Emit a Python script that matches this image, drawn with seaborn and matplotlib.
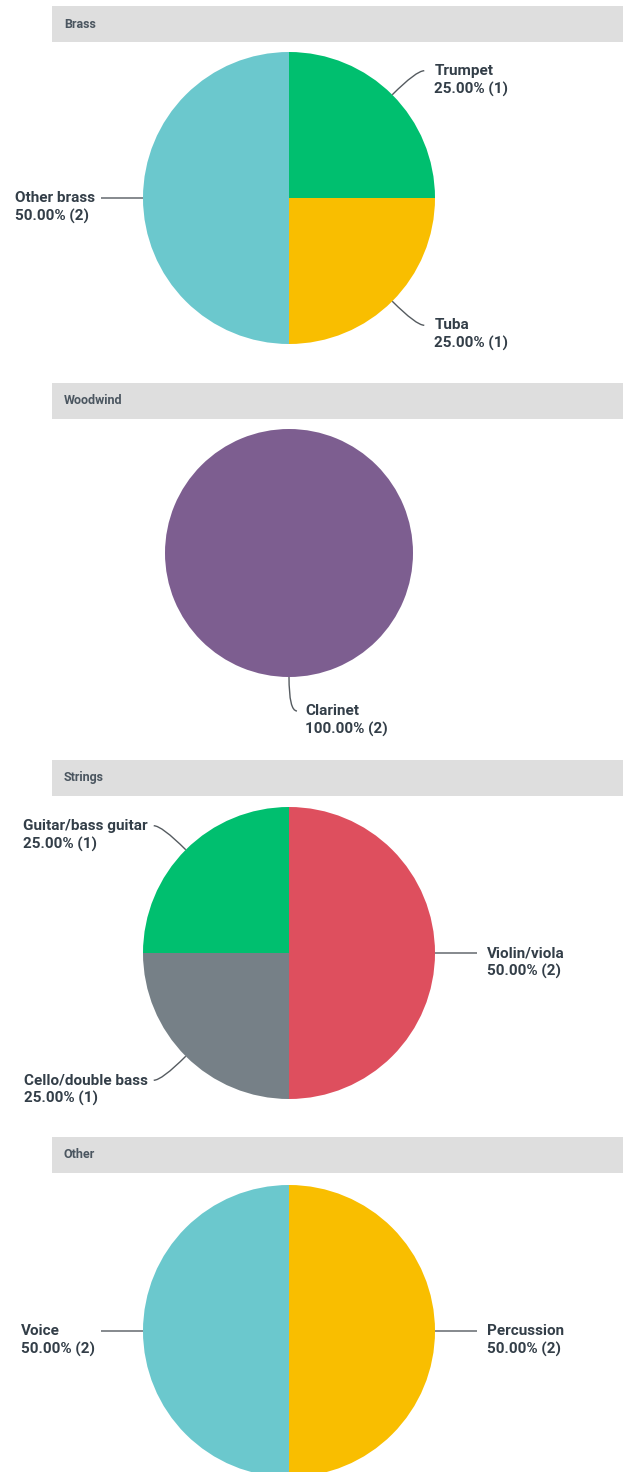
import numpy as np
import matplotlib
matplotlib.use("Agg")
import matplotlib.pyplot as plt
from matplotlib.patches import Rectangle
from matplotlib.path import Path
from matplotlib.patches import PathPatch
import seaborn as sns

# ---- data -------------------------------------------------------------
brass_labels = ["Trumpet", "Tuba", "Other brass"]
brass_counts = [1, 1, 2]

woodwind_labels = ["Clarinet"]
woodwind_counts = [2]

strings_labels = ["Violin/viola", "Cello/double bass", "Guitar/bass guitar"]
strings_counts = [2, 1, 1]

other_labels = ["Percussion", "Voice"]
other_counts = [2, 2]

section_titles = ["Brass", "Woodwind", "Strings", "Other"]

# ---- style ------------------------------------------------------------
sns.set_theme(style="white")
plt.rcParams["font.family"] = ["Roboto", "DejaVu Sans"]

GREEN, YELLOW, TEAL = "#00BF6F", "#F9BE00", "#6BC8CD"
PURPLE, RED, SLATE = "#7D5E90", "#DE4F5E", "#768087"
section_colors = [
    sns.color_palette([GREEN, YELLOW, TEAL]),
    sns.color_palette([PURPLE]),
    sns.color_palette([RED, SLATE, GREEN]),
    sns.color_palette([YELLOW, TEAL]),
]
TEXT = "#333E48"
HEADER_BG = "#DEDEDE"
HEADER_TEXT = "#4B5660"

W, H = 623, 1472
fig = plt.figure(figsize=(W / 100, H / 100), dpi=100)
ax = fig.add_axes([0, 0, 1, 1])

sections = [
    (brass_labels, brass_counts),
    (woodwind_labels, woodwind_counts),
    (strings_labels, strings_counts),
    (other_labels, other_counts),
]
# layout in pixels from the top of the canvas
header_tops = [6, 383, 760, 1137]
header_h = 36
pie_cy = [198, 553, 953, 1331]
pie_r = [146, 124, 146, 146]
pie_cx = 289


def flip(py):
    return H - py


for i, (labels, counts) in enumerate(sections):
    top = header_tops[i]
    ax.add_patch(Rectangle((52, flip(top + header_h)), W - 52, header_h,
                           facecolor=HEADER_BG, edgecolor="none", zorder=1))
    ax.text(64, flip(top + header_h / 2), section_titles[i], fontsize=9,
            fontweight="bold", color=HEADER_TEXT, va="center", ha="left")

    cx, cy, r = pie_cx, flip(pie_cy[i]), pie_r[i]
    wedges, _ = ax.pie(counts, colors=section_colors[i], startangle=90,
                       counterclock=False, center=(cx, cy), radius=r,
                       frame=True, wedgeprops=dict(linewidth=0))

    total = sum(counts)
    for w, lab, n in zip(wedges, labels, counts):
        mid = np.deg2rad((w.theta1 + w.theta2) / 2)
        c, s = np.cos(mid), np.sin(mid)
        if abs(c) < 1e-6:
            c = 0.0
        if abs(s) < 1e-6:
            s = 0.0
        side = 1 if c >= 0 else -1
        p0 = (cx + r * c, cy + r * s)
        p1 = (cx + (r + 34) * c, cy + (r + 34) * s)
        p2 = (p1[0] + side * 8, p1[1])
        path = Path([p0, p1, p2], [Path.MOVETO, Path.CURVE3, Path.CURVE3])
        ax.add_patch(PathPatch(path, facecolor="none", edgecolor="#555B60",
                               linewidth=1.0, zorder=3))
        txt = f"{lab}\n{100 * n / total:.2f}% ({n})"
        if c == 0:
            gap = 8
        elif side > 0:
            gap = 10
        else:
            gap = 6
        tx = p2[0] + side * gap
        ax.text(tx, p2[1] + 7, txt, fontsize=11, fontweight="bold",
                color=TEXT, ha="left" if side > 0 else "right",
                multialignment="left", va="top", linespacing=1.32)

ax.set_xlim(0, W)
ax.set_ylim(0, H)
ax.set_aspect("auto")
ax.axis("off")

fig.savefig("out.png", dpi=100, facecolor="white")
